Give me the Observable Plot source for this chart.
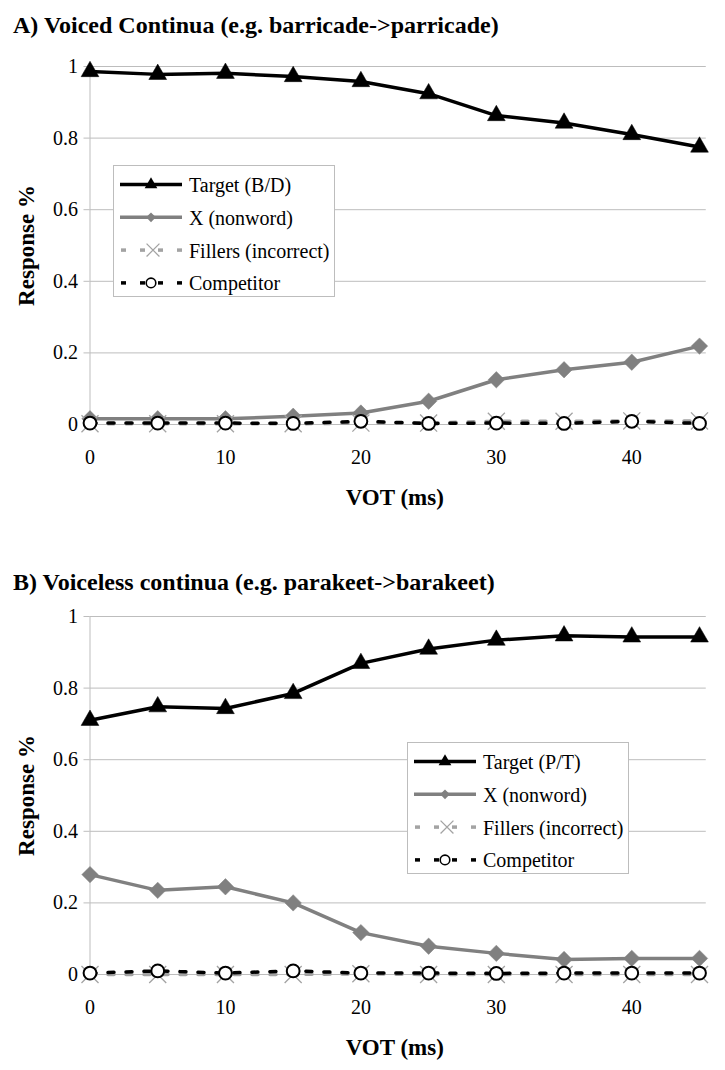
<!DOCTYPE html>
<html>
<head>
<meta charset="utf-8">
<script src="https://cdn.jsdelivr.net/npm/d3@7"></script>
<script src="https://cdn.jsdelivr.net/npm/@observablehq/plot@0.6"></script>
<style>
  html, body { margin: 0; padding: 0; background: #fff; overflow: hidden; }
  #wrap { position: relative; width: 725px; height: 1070px; overflow: hidden;
          font-family: "Liberation Serif", Tinos, "Times New Roman", Times, "DejaVu Serif", serif; color: #000; }
  .title { position: absolute; left: 13px; font-weight: bold; font-size: 24px; line-height: 24px; white-space: nowrap; }
  .chart { position: absolute; left: 0; }
  .legend { position: absolute; }
</style>
</head>
<body>
<div id="wrap"></div>
<script>
// ---------- data ----------
const vot = [0, 5, 10, 15, 20, 25, 30, 35, 40, 45];

const targetA     = [0.986, 0.978, 0.981, 0.972, 0.958, 0.924, 0.863, 0.842, 0.810, 0.775];
const nonwordA    = [0.016, 0.016, 0.016, 0.023, 0.032, 0.065, 0.125, 0.153, 0.174, 0.219];
const fillersA    = [0.002, 0.002, 0.002, 0.002, 0.004, 0.004, 0.009, 0.009, 0.010, 0.010];
const competitorA = [0.004, 0.004, 0.004, 0.003, 0.009, 0.003, 0.004, 0.003, 0.009, 0.003];

const targetB     = [0.710, 0.748, 0.743, 0.785, 0.869, 0.909, 0.934, 0.946, 0.943, 0.943];
const nonwordB    = [0.279, 0.235, 0.245, 0.200, 0.117, 0.079, 0.059, 0.042, 0.045, 0.045];
const fillersB    = [0.000, 0.000, 0.000, 0.000, 0.002, 0.000, 0.000, 0.000, 0.000, 0.000];
const competitorB = [0.004, 0.010, 0.004, 0.010, 0.004, 0.004, 0.003, 0.004, 0.004, 0.004];

const yTicks = [0, 0.2, 0.4, 0.6, 0.8, 1];
const xTickLabels = [0, 10, 20, 30, 40];

const titleA = "A) Voiced Continua (e.g. barricade->parricade)";
const titleB = "B) Voiceless continua (e.g. parakeet->barakeet)";
const legendA = ["Target (B/D)", "X (nonword)", "Fillers (incorrect)", "Competitor"];
const legendB = ["Target (P/T)", "X (nonword)", "Fillers (incorrect)", "Competitor"];
const xLabel = "VOT (ms)";
const yLabel = "Response %";

// ---------- styles ----------
const gridColor = "#bdbdbd";
const black = "#000000";
const gray = "#808080";
const lightGray = "#a3a3a3";
const fontFamily = "\"Liberation Serif\", Tinos, \"Times New Roman\", Times, \"DejaVu Serif\", serif";

const wrap = d3.select("#wrap");

function buildRows(t, n, f, c) {
  return vot.map((v, i) => ({vot: v, target: t[i], nonword: n[i], fillers: f[i], competitor: c[i]}));
}

function chart(rows) {
  return Plot.plot({
    width: 725,
    height: 480,
    marginLeft: 89.5,
    marginRight: 26,
    marginTop: 26,
    marginBottom: 96,
    style: {fontFamily, fontSize: "20px", background: "transparent", color: "black", overflow: "visible"},
    x: {domain: [0, 45]},
    y: {domain: [0, 1]},
    marks: [
      Plot.ruleY(yTicks, {x1: 0, x2: 45.5, stroke: gridColor, strokeWidth: 1}),
      Plot.ruleX([0], {y1: 0, y2: 1, stroke: gridColor, strokeWidth: 1}),
      Plot.axisY({ticks: yTicks, tickSize: 6, tickPadding: 6, tickFormat: d => String(d),
                  stroke: gridColor, fill: "black", fontSize: 20, label: null}),
      Plot.axisX({ticks: xTickLabels, tickSize: 0, tickPadding: 25, tickFormat: d => String(d),
                  fill: "black", fontSize: 20, label: null}),
      Plot.text([xLabel], {text: d => d, frameAnchor: "bottom", dy: 73, fontSize: 23,
                           fontWeight: "bold", lineAnchor: "middle", fill: "black"}),
      Plot.text([yLabel], {text: d => d, frameAnchor: "left", dx: -63.5, rotate: -90, fontSize: 23,
                           fontWeight: "bold", lineAnchor: "middle", textAnchor: "middle", fill: "black"}),

      Plot.line(rows, {x: "vot", y: "target", stroke: black, strokeWidth: 3.5}),
      Plot.dot(rows, {x: "vot", y: "target", symbol: "triangle", r: 6.6, fill: black, stroke: black, strokeWidth: 0.5}),

      Plot.line(rows, {x: "vot", y: "nonword", stroke: gray, strokeWidth: 3.5}),
      Plot.dot(rows, {x: "vot", y: "nonword", symbol: "diamond2", r: 7.4, fill: gray, stroke: gray, strokeWidth: 0.5}),

      Plot.line(rows, {x: "vot", y: "fillers", stroke: lightGray, strokeWidth: 3.5, strokeDasharray: "6,12"}),
      Plot.dot(rows, {x: "vot", y: "fillers", symbol: "times", r: 7.8, fill: "none", stroke: lightGray, strokeWidth: 1.3}),

      Plot.line(rows, {x: "vot", y: "competitor", stroke: black, strokeWidth: 3.5, strokeDasharray: "6,12"}),
      Plot.dot(rows, {x: "vot", y: "competitor", r: 6.4, fill: "#ffffff", stroke: black, strokeWidth: 2})
    ]
  });
}

function legend(labels, left, top) {
  const W = 222, H = 132;
  const svg = wrap.append("svg")
    .attr("class", "legend")
    .attr("width", W).attr("height", H)
    .style("left", left + "px").style("top", top + "px")
    .style("overflow", "visible");
  svg.append("rect").attr("x", 0.5).attr("y", 0.5).attr("width", W - 1).attr("height", H - 1)
    .attr("fill", "#fff").attr("stroke", gridColor);
  const rowY = i => 19.5 + 32.8 * i;
  const dashSegs = [[8, 13], [27, 32], [45, 50], [64, 69]];
  const mx = 38;
  // Target
  let y = rowY(0);
  svg.append("line").attr("x1", 7).attr("x2", 69).attr("y1", y).attr("y2", y).attr("stroke", black).attr("stroke-width", 3.5);
  svg.append("path").attr("d", d3.symbol(d3.symbolTriangle, 70)()).attr("transform", `translate(${mx},${y})`).attr("fill", black);
  // X nonword
  y = rowY(1);
  svg.append("line").attr("x1", 7).attr("x2", 69).attr("y1", y).attr("y2", y).attr("stroke", gray).attr("stroke-width", 3.5);
  svg.append("path").attr("d", d3.symbol(d3.symbolDiamond2, 60)()).attr("transform", `translate(${mx},${y})`).attr("fill", gray);
  // Fillers
  y = rowY(2);
  dashSegs.forEach(([a, b]) => svg.append("line").attr("x1", a).attr("x2", b).attr("y1", y).attr("y2", y).attr("stroke", lightGray).attr("stroke-width", 3.5));
  svg.append("path").attr("d", d3.symbol(d3.symbolTimes, 110)()).attr("transform", `translate(${mx + 2},${y})`).attr("fill", "none").attr("stroke", lightGray).attr("stroke-width", 1.3);
  // Competitor
  y = rowY(3);
  dashSegs.forEach(([a, b]) => svg.append("line").attr("x1", a).attr("x2", b).attr("y1", y).attr("y2", y).attr("stroke", black).attr("stroke-width", 3.5));
  svg.append("circle").attr("cx", mx).attr("cy", y).attr("r", 4.8).attr("fill", "#fff").attr("stroke", black).attr("stroke-width", 1.6);
  // labels
  labels.forEach((lab, i) => {
    svg.append("text").attr("x", 76).attr("y", rowY(i) + 7.5)
      .attr("font-family", fontFamily).attr("font-size", 20).attr("fill", "#000").text(lab);
  });
}

// ---------- panel A ----------
wrap.append("div").attr("class", "title").style("top", "13px").text(titleA);
const chartA = chart(buildRows(targetA, nonwordA, fillersA, competitorA));
d3.select(chartA).attr("class", "chart").style("top", "40px");
wrap.node().appendChild(chartA);
legend(legendA, 112.7, 165);

// ---------- panel B ----------
wrap.append("div").attr("class", "title").style("top", "570px").text(titleB);
const chartB = chart(buildRows(targetB, nonwordB, fillersB, competitorB));
d3.select(chartB).attr("class", "chart").style("top", "590px");
wrap.node().appendChild(chartB);
legend(legendB, 406.7, 741.7);
</script>
</body>
</html>
